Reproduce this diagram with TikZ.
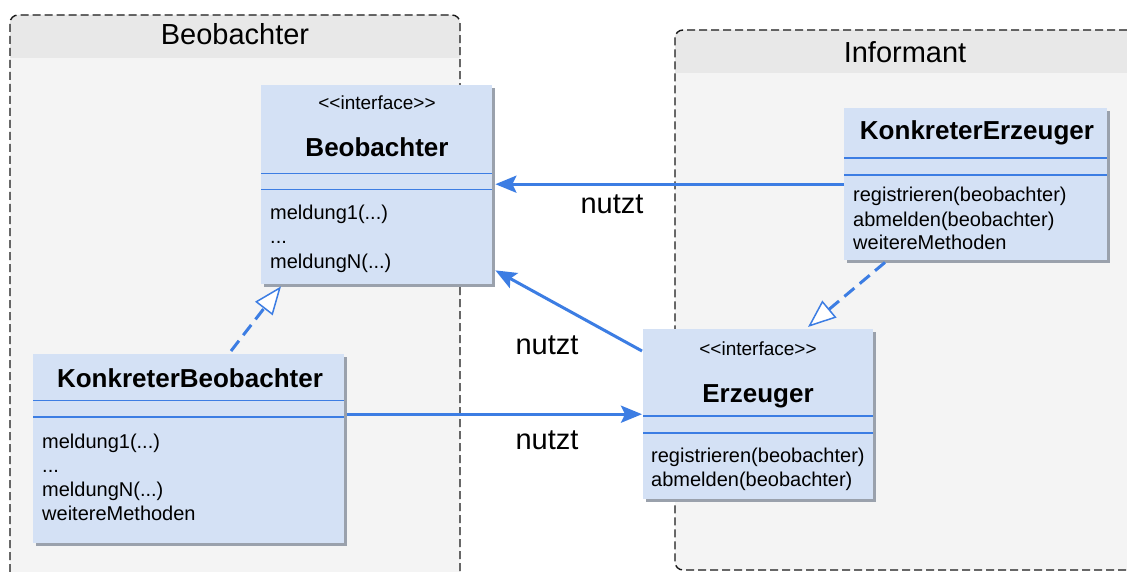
\documentclass[tikz,border=0pt]{standalone}
\usepackage{fontspec}
\setmainfont{Liberation Sans}
\usetikzlibrary{arrows.meta,calc,shadows}
\definecolor{boxfill}{HTML}{D4E1F5}
\definecolor{uml}{HTML}{3C7DE3}
\definecolor{shade}{HTML}{9AA1AC}
\definecolor{hdr}{HTML}{E8E8E8}
\definecolor{bdy}{HTML}{F4F4F4}
\newcommand{\stereotxt}{<\kern0pt<interface>\kern0pt>}
\begin{document}
\begin{tikzpicture}[x=1pt,y=-1pt,
  contborder/.style={draw=black!90, line width=1.4pt, dash pattern=on 8pt off 4pt, rounded corners=8pt},
  conttitle/.style={font=\fontsize{29}{34}\selectfont, anchor=base, inner sep=0},
  classbox/.style={fill=boxfill, anchor=north west, inner sep=0,
    drop shadow={fill=shade, opacity=1, shadow xshift=2.5pt, shadow yshift=-2.5pt}},
  sepline/.style={draw=uml, line width=1.5pt},
  cname/.style={font=\bfseries\fontsize{26}{30}\selectfont, anchor=base, inner sep=0},
  stereo/.style={font=\fontsize{19}{22}\selectfont, anchor=base, inner sep=0},
  meth/.style={font=\fontsize{20}{24}\selectfont, anchor=base west, inner sep=0},
  lbl/.style={font=\fontsize{29}{34}\selectfont, anchor=base, inner sep=0},
  uses/.style={draw=uml, line width=3pt, -{Stealth[length=21pt,width=17pt,inset=4pt]}},
  realize/.style={draw=uml, line width=3pt, dash pattern=on 13pt off 7pt,
    -{Triangle[length=28pt,width=22pt,fill=white,line width=1.5pt]}}]
\useasboundingbox (0,0) rectangle (1127,572);
\clip (0,0) rectangle (1127,572);
\fill[white] (0,0) rectangle (1127,572);
% container Beobachter
\fill[bdy, rounded corners=8pt] (10,15) rectangle (460,620);
\begin{scope}
  \clip (0,0) rectangle (1127,58);
  \fill[hdr, rounded corners=8pt] (10,15) rectangle (460,620);
\end{scope}
\draw[contborder] (10,620) -- (10,15) -- (460,15) -- (460,620);
\node[conttitle] (tB) at (235,45) {Beobachter};
% container Informant
\fill[bdy, rounded corners=8pt] (675,30) rectangle (1150,570);
\begin{scope}
  \clip (0,0) rectangle (1127,73);
  \fill[hdr, rounded corners=8pt] (675,30) rectangle (1150,570);
\end{scope}
\draw[contborder] (1150,570) -- (675,570) -- (675,30) -- (1150,30);
\node[conttitle] (tI) at (905,63) {Informant};
% class boxes
\node[classbox, minimum width=231pt, minimum height=199pt] (B) at (261,85) {};
\node[classbox, minimum width=311pt, minimum height=189pt] (KB) at (33,354) {};
\node[classbox, minimum width=230pt, minimum height=170pt] (E) at (643,329) {};
\node[classbox, minimum width=263pt, minimum height=152pt] (KE) at (844,108) {};
% separators
\draw[sepline] (261,173.7) -- (492,173.7);
\draw[sepline] (261,189.7) -- (492,189.7);
\draw[sepline] (33,400.7) -- (344,400.7);
\draw[sepline] (33,417) -- (344,417);
\draw[sepline] (643,416) -- (873,416);
\draw[sepline] (643,433) -- (873,433);
\draw[sepline] (844,158) -- (1107,158);
\draw[sepline] (844,175) -- (1107,175);
% texts Beobachter
\node[stereo] (Bs) at (377,110) {\stereotxt};
\node[cname] (Bn) at (377,157) {Beobachter};
\node[meth] (Bm1) at (270,219) {meldung1(...)};
\node[meth] (Bm2) at (270,243.5) {...};
\node[meth] (Bm3) at (270,268) {meldungN(...)};
% texts KonkreterBeobachter
\node[cname] (KBn) at (190,387) {KonkreterBeobachter};
\node[meth] (KBm1) at (42,448) {meldung1(...)};
\node[meth] (KBm2) at (42,472) {...};
\node[meth] (KBm3) at (42,496.5) {meldungN(...)};
\node[meth] (KBm4) at (42,520.5) {weitereMethoden};
% texts Erzeuger
\node[stereo] (Es) at (758,355) {\stereotxt};
\node[cname] (En) at (758,402.5) {Erzeuger};
\node[meth] (Em1) at (651,462) {registrieren(beobachter)};
\node[meth] (Em2) at (651,486) {abmelden(beobachter)};
% texts KonkreterErzeuger
\node[cname] (KEn) at (977,140) {KonkreterErzeuger};
\node[meth] (KEm1) at (853,202) {registrieren(beobachter)};
\node[meth] (KEm2) at (853,226) {abmelden(beobachter)};
\node[meth] (KEm3) at (853,250) {weitereMethoden};
% connectors
\draw[uses] (KE.west) -- ([xshift=3pt]KE.west -| B.east);
\draw[uses] ($(E.north west)+(-1,22)$) -- ($(B.south east)+(3,-14)$);
\draw[uses] ([xshift=3pt]E.west -| KB.east) -- ([xshift=-1pt]E.west);
\draw[realize] ($(KB.north west)+(198,-3)$) -- ($(B.south west)+(20,2)$);
\draw[realize] ($(KE.south west)+(41,2)$) -- ($(E.north west)+(165,-2)$);
% labels
\node[lbl] (l1) at (612,214) {nutzt};
\node[lbl] (l2) at (547,354) {nutzt};
\node[lbl] (l3) at (547,449) {nutzt};
\end{tikzpicture}
\end{document}
